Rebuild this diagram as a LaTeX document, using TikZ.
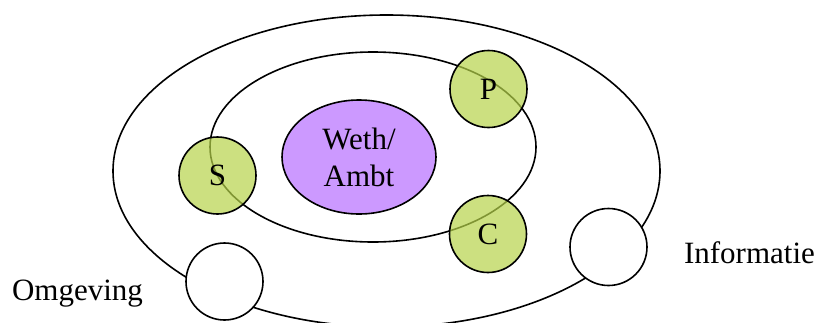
\documentclass[tikz,border=0pt]{standalone}
\usepackage{fontspec}
\setmainfont{Liberation Serif}
\usetikzlibrary{shapes.geometric}
\definecolor{purp}{RGB}{204,153,255}
\definecolor{grn}{RGB}{182,211,74}
\tikzset{
  ring/.style={draw=black, line width=1.6pt, ellipse, inner sep=0pt},
  greenball/.style={draw=black, line width=1.6pt, circle, inner sep=0pt, minimum size=77pt, fill=grn, fill opacity=0.7, text opacity=1, font=\fontsize{31}{34}\selectfont},
  whiteball/.style={draw=black, line width=1.6pt, circle, inner sep=0pt, minimum size=77pt, fill=white},
  lbl/.style={font=\fontsize{31}{34}\selectfont, inner sep=0pt, anchor=base}
}
\begin{document}
\begin{tikzpicture}[x=1pt,y=-1pt]
\useasboundingbox (0,0) rectangle (820,322);
\clip (0,0) rectangle (820,322);
\node[ring, minimum width=547pt, minimum height=312pt] (outer) at (386.5,171) {};
\node[whiteball] (omgc) at (224.5,281.5) {};
\node[whiteball] (infc) at (608.5,247) {};
\node[ring, minimum width=326pt, minimum height=190pt] (inner) at (373,147) {};
\node[ring, fill=purp, minimum width=154pt, minimum height=114pt, align=center, font=\fontsize{31}{37}\selectfont] (wa) at (359,157) {Weth/\\Ambt};
\node[greenball] (P) at (488.5,89) {P};
\node[greenball] (S) at (217.5,175.5) {S};
\node[greenball] (C) at (488,234) {C};
\node[lbl] (omg) at (77.5,300) {Omgeving};
\node[lbl] (inf) at (749.5,263) {Informatie};
\end{tikzpicture}
\end{document}
